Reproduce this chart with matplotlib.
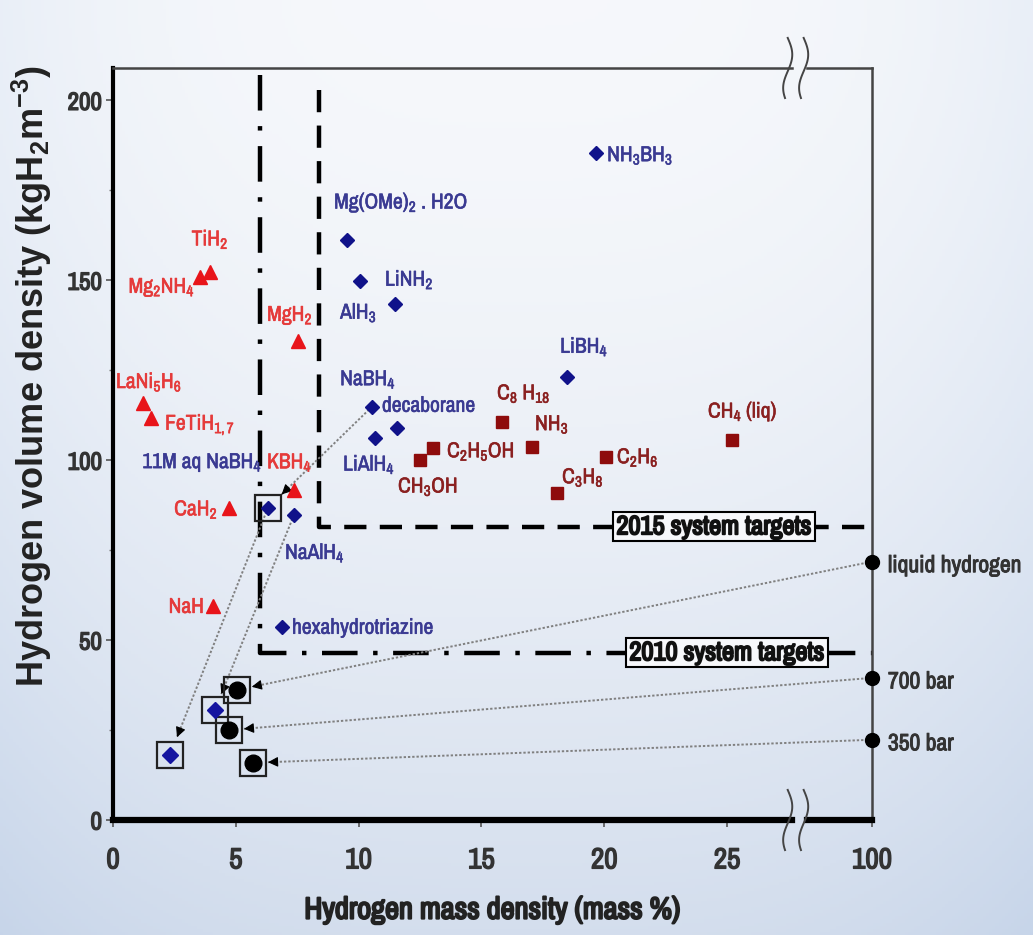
import numpy as np
import matplotlib
matplotlib.use("Agg")
import matplotlib.pyplot as plt
from matplotlib import font_manager
from matplotlib import patheffects as pe

names = {f.name for f in font_manager.fontManager.ttflist}
NARROW = next((n for n in ["Liberation Sans Narrow", "Archivo Narrow", "Liberation Sans"]
               if n in names), "DejaVu Sans")

plt.rcParams["font.family"] = [NARROW, "DejaVu Sans"]
plt.rcParams["mathtext.fontset"] = "custom"
plt.rcParams["mathtext.rm"] = NARROW
plt.rcParams["mathtext.it"] = NARROW
plt.rcParams["mathtext.bf"] = NARROW + ":bold"
plt.rcParams["mathtext.default"] = "regular"

# everything at 100 mass % is drawn on the right spine (broken x axis)
X_MAX = 30.9

# metal hydrides (red triangles)
metal_names = ["TiH$_2$", "Mg$_2$NH$_4$", "MgH$_2$", "LaNi$_5$H$_6$", "FeTiH$_{1,7}$",
               "KBH$_4$", "CaH$_2$", "NaH"]
metal_x = [3.95, 3.54, 7.53, 1.22, 1.55, 7.37, 4.72, 4.07]
metal_y = [152.2, 150.8, 133.0, 115.9, 111.8, 91.8, 86.8, 59.5]

# complex / chemical hydrides (blue diamonds)
chem_names = ["NH$_3$BH$_3$", "Mg(OMe)$_2$ . H2O", "AlH$_3$", "LiNH$_2$", "LiBH$_4$",
              "NaBH$_4$", "decaborane", "LiAlH$_4$", "11M aq NaBH$_4$", "NaAlH$_4$",
              "hexahydrotriazine"]
chem_x = [19.67, 9.53, 10.06, 11.48, 18.49, 10.55, 11.56, 10.67, 6.31, 7.37, 6.88]
chem_y = [185.5, 161.3, 149.9, 143.5, 123.2, 114.9, 109.0, 106.3, 86.8, 84.8, 53.7]

# hydrocarbons / liquids (dark red squares)
liq_names = ["CH$_3$OH", "C$_2$H$_5$OH", "C$_8$ H$_{18}$", "NH$_3$", "C$_3$H$_8$",
             "C$_2$H$_6$", "CH$_4$ (liq)"]
liq_x = [12.5, 13.03, 15.84, 17.06, 18.08, 20.07, 25.2]
liq_y = [100.1, 103.5, 110.7, 103.8, 91.0, 101.0, 105.7]

# pure hydrogen (at 100 mass %) and the matching system values
h2_names = ["liquid hydrogen", "700 bar", "350 bar"]
h2_x = [100, 100, 100]
h2_y = [71.8, 39.5, 22.3]
h2_sys_x = [5.05, 4.72, 5.7]
h2_sys_y = [36.2, 25.0, 15.9]

# system values of the chemical hydrides
chem_sys_x = [2.32, 4.15]
chem_sys_y = [18.1, 30.6]

# DOE targets
target_names = ["2010 system targets", "2015 system targets"]
target_x = [6.0, 8.39]
target_y = [46.5, 81.5]

# label offsets in pixels (dx, dy, ha)
metal_off = [(0, 33, "center"), (-5, -10, "right"), (-8, 26, "center"), (-27, 21, "left"),
             (14, -7, "left"), (-27, 27, "left"), (-11, -2, "right"), (-9, -1, "right")]
chem_off = [(11, -3, "left"), (-13, 37, "left"), (-20, -32, "left"), (-10, 24, "left"),
            (-7, 30, "left"), (-32, 27, "left"), (-15, 22, "left"), (-32, -27, "left"),
            (-6, 45, "right"), (-9, -38, "left"), (10, -1, "left")]
liq_off = [(-22, -27, "left"), (14, -4, "left"), (-5, 28, "left"), (3, 22, "left"),
           (5, 15, "left"), (11, -1, "left"), (-24, 28, "left")]


def xpos(v):
    v = np.asarray(v, dtype=float)
    return np.where(v > 30, X_MAX, v)


def bold(w, c):
    return [pe.withStroke(linewidth=w, foreground=c)]


fig = plt.figure(figsize=(10.33, 9.35), dpi=100)

# soft sky-like background
gy, gx = np.mgrid[0:1:300j, 0:1:330j]
top = np.array([0.965, 0.972, 0.985])
bot = np.array([0.83, 0.87, 0.93])
img = top + (bot - top) * (gy[..., None] ** 1.7)
edge = np.clip(np.abs(gx - 0.5) * 2, 0, 1)[..., None] ** 3
img = img - 0.05 * edge * np.array([1, 0.7, 0.3])
bg = fig.add_axes([0, 0, 1, 1], zorder=-5)
bg.imshow(np.clip(img, 0, 1), aspect="auto", extent=[0, 1, 0, 1], origin="upper")
bg.axis("off")

ax = fig.add_axes([0.1094, 0.1230, 0.7347, 0.8043])
ax.patch.set_alpha(0)
ax.set_xlim(0, X_MAX)
ax.set_ylim(0, 209)

# target lines
ax.plot([target_x[0], target_x[0], X_MAX], [207, target_y[0], target_y[0]],
        color="black", lw=3.2, linestyle=(0, (8, 3.5, 1, 3.5)), zorder=2)
ax.plot([target_x[1], target_x[1], X_MAX], [203, target_y[1], target_y[1]],
        color="black", lw=3.2, linestyle=(0, (5, 3)), zorder=2)
box_x = [25.0, 24.47]
for name, bx, ty in zip(target_names, box_x, target_y):
    ax.text(bx, ty, name, ha="center", va="center", fontsize=19,
            color="#111111", zorder=6, path_effects=bold(1.4, "#111111"),
            bbox=dict(boxstyle="square,pad=0.12", fc="#f7f8fb", ec="black", lw=1.5))


# dotted gray connector with a small black head stopping `gap` pixels before the target
def link(x0, y0, x1, y1, gap):
    p0 = ax.transData.transform((x0, y0))
    p1 = ax.transData.transform((x1, y1))
    d = (p0 - p1) / np.hypot(*(p0 - p1))
    inv = ax.transData.inverted()
    tip = inv.transform(p1 + d * gap)
    tail = inv.transform(p1 + d * (gap + 9))
    ax.plot([x0, tip[0]], [y0, tip[1]], color="#808080", lw=1.4,
            linestyle=(0, (1.2, 1.0)), zorder=3, clip_on=False)
    ax.annotate("", xy=tip, xytext=tail,
                arrowprops=dict(arrowstyle="-|>,head_length=0.6,head_width=0.3",
                                color="black", lw=0.8, shrinkA=0, shrinkB=0),
                zorder=3, annotation_clip=False)


hx = xpos(h2_x)
for i in range(3):
    link(hx[i], h2_y[i], h2_sys_x[i], h2_sys_y[i], 15)
link(chem_x[5], chem_y[5], chem_x[8], chem_y[8], 19)
link(chem_x[8], chem_y[8], chem_sys_x[0], chem_sys_y[0], 19)
link(chem_x[9], chem_y[9], chem_sys_x[1], chem_sys_y[1], 17)

# boxes around system values
box_x_all = h2_sys_x + chem_sys_x + [chem_x[8]]
box_y_all = h2_sys_y + chem_sys_y + [chem_y[8]]
ax.plot(box_x_all, box_y_all, "s", ms=19, mfc="none", mec="#222222", mew=1.6, zorder=4)

# markers
ax.plot(metal_x, metal_y, "^", ms=10, color="#e8141a", zorder=5)
ax.plot(chem_x, chem_y, "D", ms=7.5, color="#10128a", zorder=5)
ax.plot(chem_sys_x, chem_sys_y, "D", ms=8, color="#1414a0", zorder=5)
ax.plot(liq_x, liq_y, "s", ms=9, color="#8e0c0c", zorder=5)
ax.plot(h2_sys_x, h2_sys_y, "o", ms=12, color="black", zorder=5)
ax.plot(hx, h2_y, "o", ms=10, color="black", zorder=6, clip_on=False)


def labels(names_, xs, ys, offs, color):
    for n, x, y, (dx, dy, ha) in zip(names_, xs, ys, offs):
        ax.annotate(n, (x, y), xytext=(dx, dy), textcoords="offset pixels",
                    ha=ha, va="center", fontsize=15.5, color=color, zorder=7,
                    annotation_clip=False, path_effects=bold(0.4, color))


labels(metal_names, metal_x, metal_y, metal_off, "#e53a3a")
labels(chem_names, chem_x, chem_y, chem_off, "#3a3a92")
labels(liq_names, liq_x, liq_y, liq_off, "#8a2020")
for n, x, y in zip(h2_names, hx, h2_y):
    ax.annotate(n, (x, y), xytext=(16, -4), textcoords="offset pixels", ha="left",
                va="center", fontsize=17, color="#333333", annotation_clip=False,
                path_effects=bold(0.7, "#333333"))

# axes frame with breaks
for s in ["top", "bottom"]:
    ax.spines[s].set_visible(False)
ax.spines["left"].set_linewidth(3)
ax.spines["left"].set_color("black")
ax.spines["right"].set_linewidth(1.8)
ax.spines["right"].set_color("#444444")
tr = ax.transAxes
ax.plot([0, 0.895], [0, 0], color="black", lw=4.5, transform=tr, clip_on=False, zorder=8)
ax.plot([0.914, 1.0], [0, 0], color="black", lw=4.5, transform=tr, clip_on=False, zorder=8)
ax.plot([0, 0.895], [1, 1], color="#444444", lw=1.8, transform=tr, clip_on=False, zorder=8)
ax.plot([0.914, 1.0], [1, 1], color="#444444", lw=1.8, transform=tr, clip_on=False, zorder=8)
t = np.linspace(0, 1, 40)
for yc in (0, 1):
    for xc in (0.889, 0.910):
        ax.plot(xc + 0.006 * np.sin(1.8 * np.pi * t), yc + 0.04 - 0.08 * t,
                color="#444444", lw=1.4, transform=tr, clip_on=False, zorder=9)

ax.set_xticks([0, 5, 10, 15, 20, 25, X_MAX])
ax.set_xticklabels(["0", "5", "10", "15", "20", "25", "100"])
ax.set_yticks([0, 50, 100, 150, 200])
ax.set_yticks([25, 75, 125, 175], minor=True)
ax.tick_params(axis="x", direction="out", length=5, width=1.2, colors="#555555",
               labelsize=21, labelcolor="#333333", pad=14, top=False)
ax.tick_params(axis="y", which="major", direction="out", length=5, width=1.2,
               colors="#555555", labelsize=18, labelcolor="#333333", pad=3, right=False)
ax.tick_params(axis="y", which="minor", direction="out", length=3, width=1.0,
               colors="#777777", right=False)
for lab in ax.get_xticklabels() + ax.get_yticklabels():
    lab.set_path_effects(bold(1.0, "#333333"))

ax.set_xlabel("Hydrogen mass density (mass %)", fontsize=22, color="#222222",
              labelpad=16, path_effects=bold(1.5, "#222222"))
ax.set_ylabel("Hydrogen volume density (kgH$_2$m$^{-3}$)", fontsize=26,
              fontweight="bold", color="#222222", family="Liberation Sans")
ax.yaxis.set_label_coords(-0.078, 0.59)

fig.savefig("out.png", dpi=100)
